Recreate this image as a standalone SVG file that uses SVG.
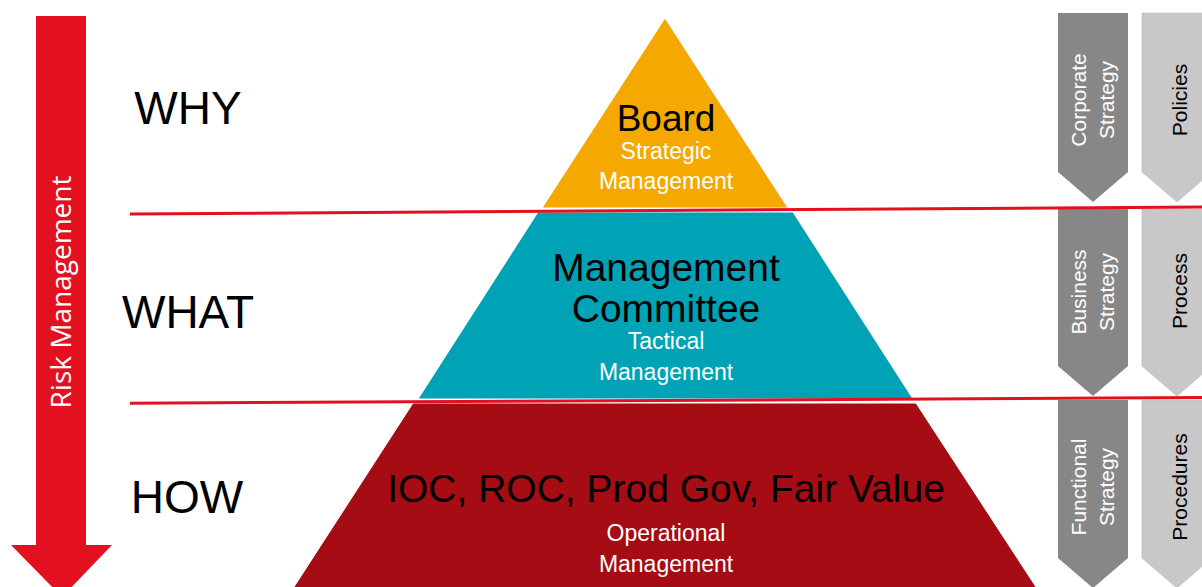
<svg xmlns="http://www.w3.org/2000/svg" width="1202" height="587" viewBox="0 0 1202 587">
  <style>
    .sans { font-family: "Liberation Sans", Arial, sans-serif; }
    .big { font-size: 39px; fill: #000; text-anchor: middle; }
    .sub { font-size: 23px; fill: #fff; text-anchor: middle; }
    .q { font-size: 46px; fill: #000; text-anchor: middle; }
    .chevD { fill: #878787; }
    .chevL { fill: #C8C8C8; stroke: #B8B8B8; stroke-width: 0.6; }
    .ctxtW { font-size: 21px; fill: #fff; text-anchor: middle; }
    .ctxtB { font-size: 21px; fill: #000; text-anchor: middle; }
    .layer { stroke: #fff; stroke-width: 1; }
    .divider { stroke: #E3101F; stroke-width: 3; fill: none; }
  </style>
  <rect width="1202" height="587" fill="#fff"/>

  <!-- Risk management arrow -->
  <g id="risk-arrow">
    <polygon points="36,16 86,16 86,545 112,545 62,597 11,545 36,545" fill="#E3101F"/>
    <text transform="translate(61,292) rotate(-90)" y="10" style="font-family:'Open Sans','Noto Sans',sans-serif;font-size:28px;fill:#fff;text-anchor:middle">Risk Management</text>
  </g>

  <!-- Question labels -->
  <g id="label-why"><text class="sans q" x="188" y="124">WHY</text></g>
  <g id="label-what"><text class="sans q" x="188" y="328">WHAT</text></g>
  <g id="label-how"><text class="sans q" x="187" y="513">HOW</text></g>

  <!-- Pyramid layers -->
  <g id="board">
    <polygon class="layer" points="665,18 788,208 542,208" fill="#F5A800"/>
    <text class="sans" x="666" y="131" style="font-size:37px;fill:#000;text-anchor:middle">Board</text>
    <text class="sans sub" x="666" y="159">Strategic</text>
    <text class="sans sub" x="666" y="189">Management</text>
  </g>
  <g id="management-committee">
    <polygon class="layer" points="538,212 793,212 913,399 418,399" fill="#00A3B5"/>
    <text class="sans big" x="666" y="281">Management</text>
    <text class="sans big" x="666" y="322">Committee</text>
    <text class="sans sub" x="666" y="349">Tactical</text>
    <text class="sans sub" x="666" y="380">Management</text>
  </g>
  <g id="operational">
    <polygon class="layer" points="413,403 916,403 1038,590 292,590" fill="#A50C14"/>
    <text class="sans big" x="666" y="502">IOC, ROC, Prod Gov, Fair Value</text>
    <text class="sans sub" x="666" y="541">Operational</text>
    <text class="sans sub" x="666" y="572">Management</text>
  </g>

  <!-- Right side chevrons -->
  <g id="corporate-strategy">
    <polygon class="chevD" points="1058,13 1128,13 1128,172 1093,202 1058,172"/>
    <text class="sans ctxtW" transform="translate(1100,100) rotate(-90)"><tspan x="0" y="-14">Corporate</tspan><tspan x="0" y="14">Strategy</tspan></text>
  </g>
  <g id="policies">
    <polygon class="chevL" points="1142,13 1212,13 1212,172 1177,202 1142,172"/>
    <text class="sans ctxtB" transform="translate(1177,100) rotate(-90)" y="10">Policies</text>
  </g>
  <g id="business-strategy">
    <polygon class="chevD" points="1058,209 1128,209 1128,366 1093,396 1058,366"/>
    <text class="sans ctxtW" transform="translate(1100,292) rotate(-90)"><tspan x="0" y="-14">Business</tspan><tspan x="0" y="14">Strategy</tspan></text>
  </g>
  <g id="process">
    <polygon class="chevL" points="1142,209 1212,209 1212,366 1177,396 1142,366"/>
    <text class="sans ctxtB" transform="translate(1177,291) rotate(-90)" y="10">Process</text>
  </g>
  <g id="functional-strategy">
    <polygon class="chevD" points="1058,400 1128,400 1128,558 1093,588 1058,558"/>
    <text class="sans ctxtW" transform="translate(1100,487) rotate(-90)"><tspan x="0" y="-14">Functional</tspan><tspan x="0" y="14">Strategy</tspan></text>
  </g>
  <g id="procedures">
    <polygon class="chevL" points="1142,400 1212,400 1212,558 1177,588 1142,558"/>
    <text class="sans ctxtB" transform="translate(1177,487) rotate(-90)" y="10">Procedures</text>
  </g>

  <!-- Divider lines -->
  <g id="connectors">
    <line class="divider" x1="130" y1="214" x2="1202" y2="207"/>
    <line class="divider" x1="130" y1="403.2" x2="1202" y2="397.6"/>
  </g>
</svg>
